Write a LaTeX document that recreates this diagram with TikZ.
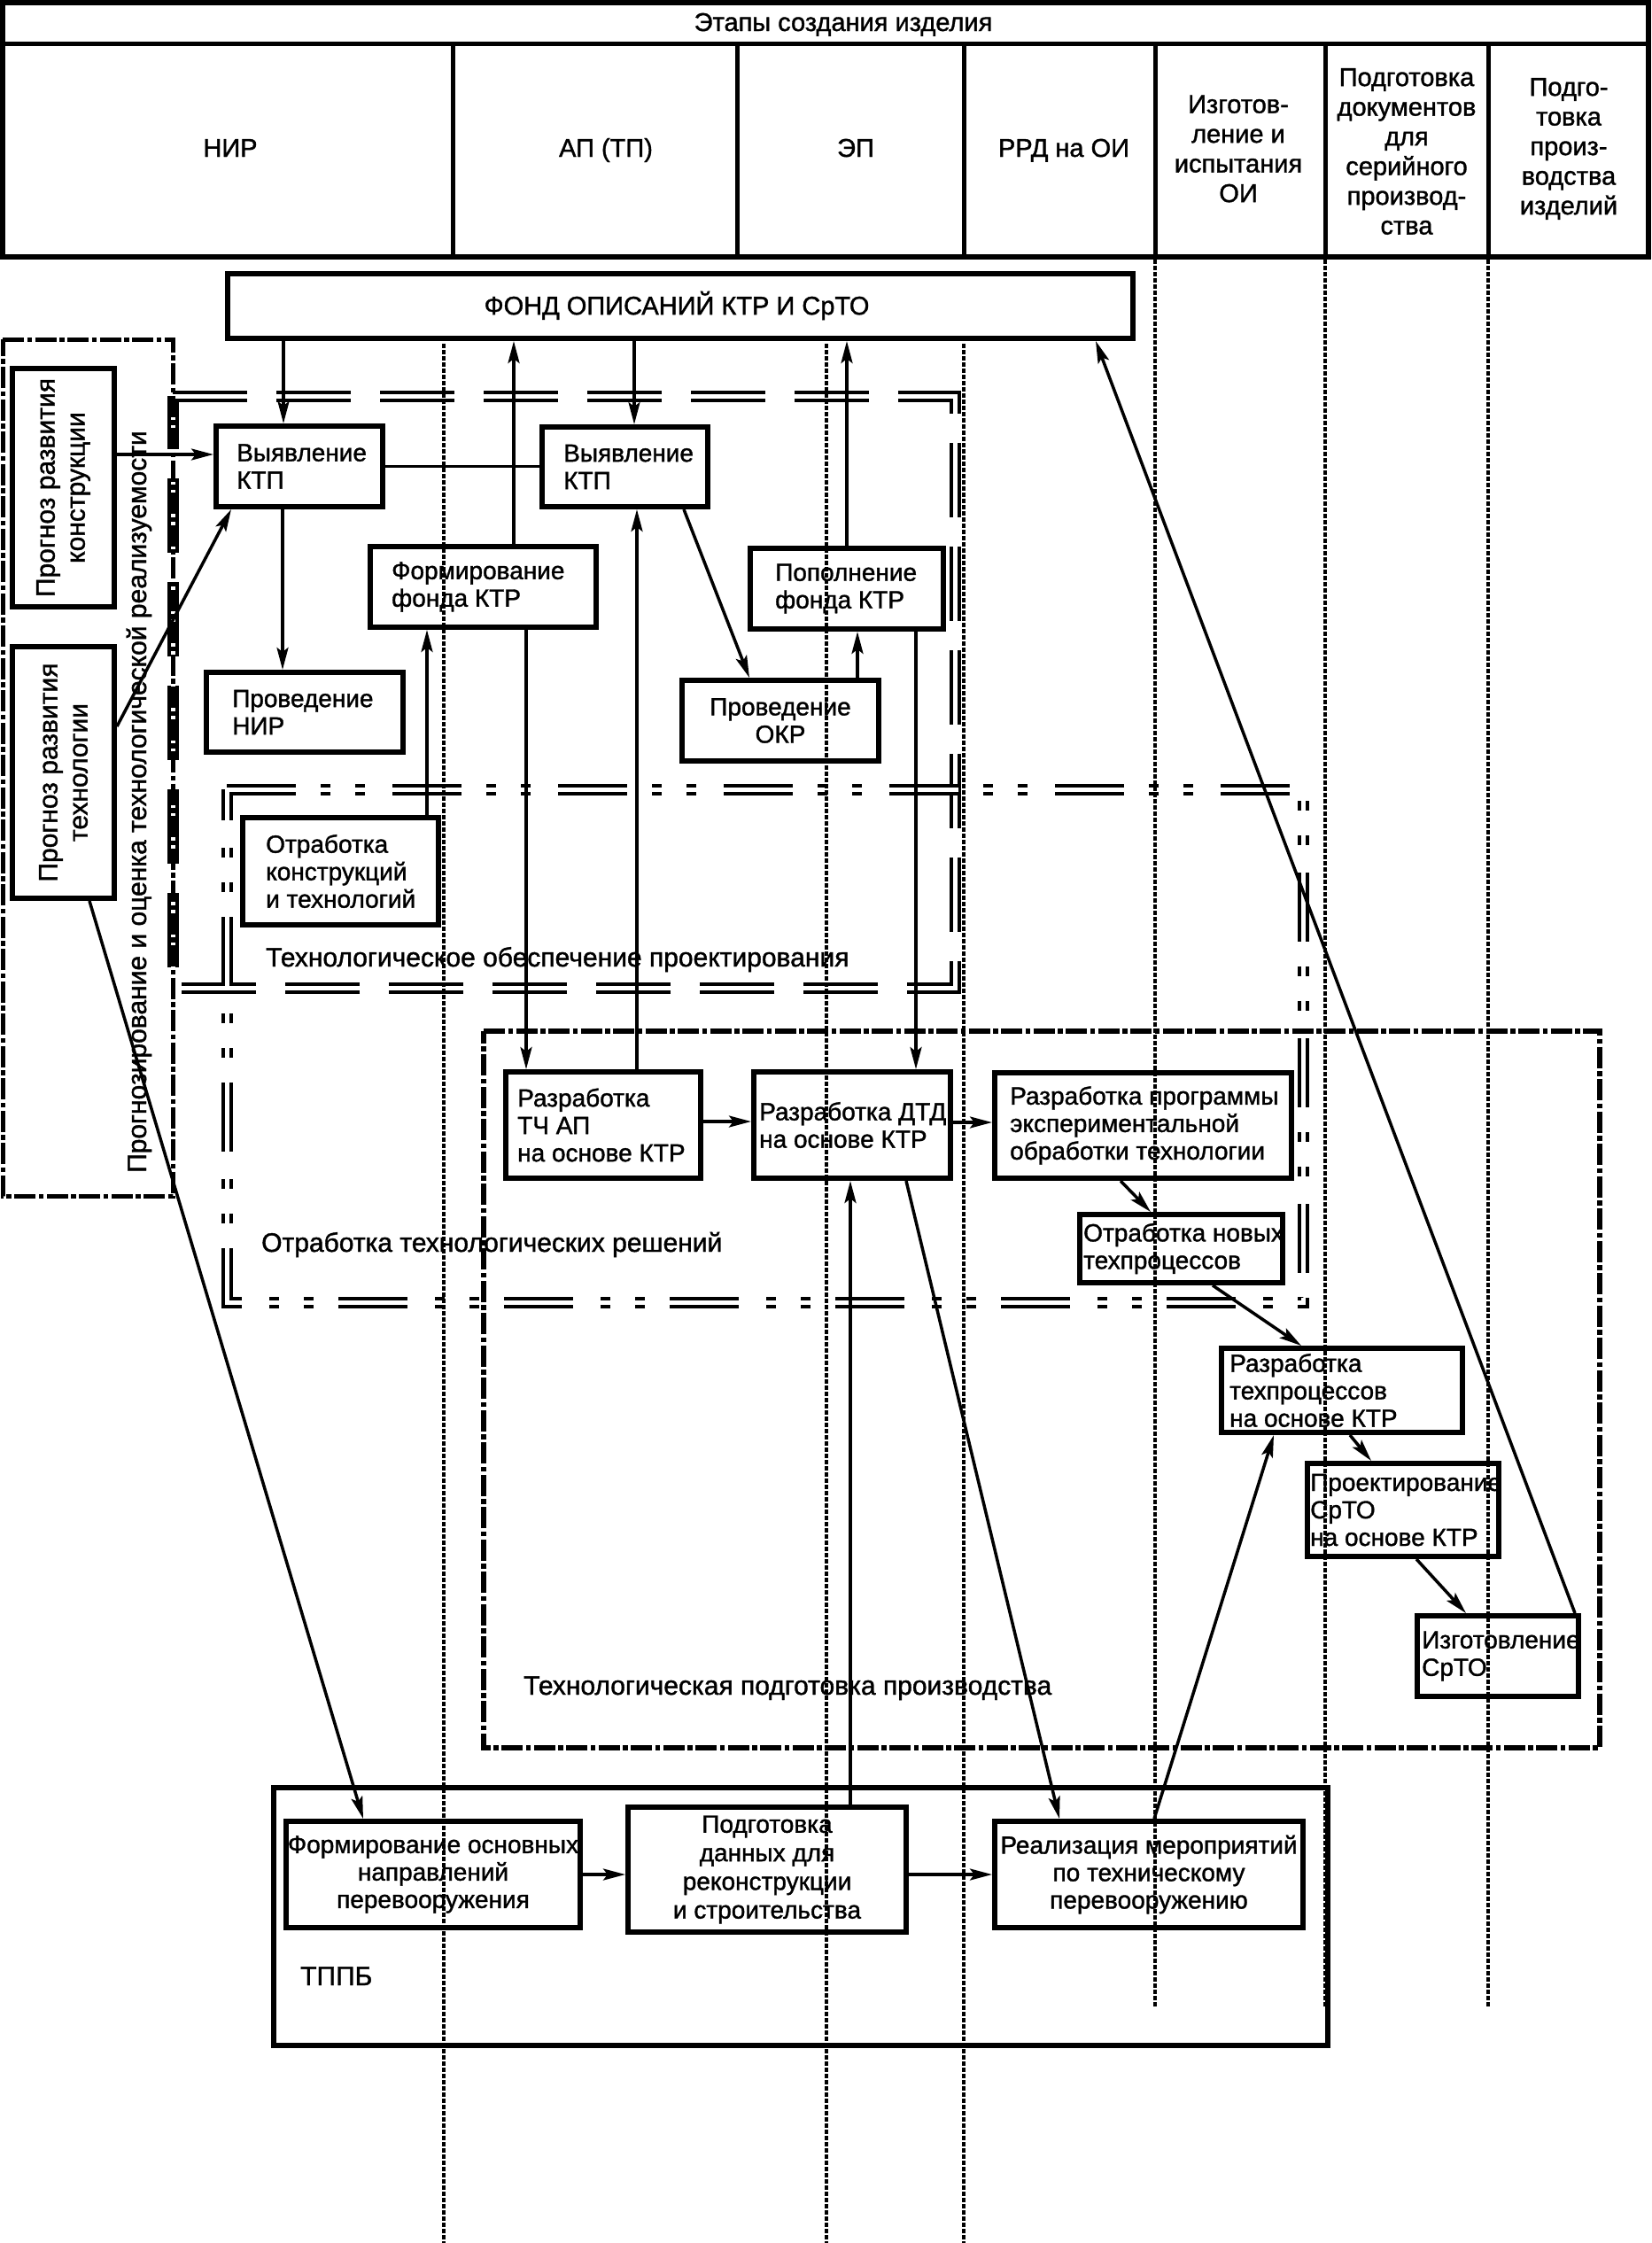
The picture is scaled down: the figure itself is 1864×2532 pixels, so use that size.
\documentclass[tikz,border=0pt]{standalone}
\usepackage{fontspec}
\setmainfont{Liberation Sans}[FakeBold=1.3]
\usetikzlibrary{arrows.meta,calc}
\newcommand\bxfont{\fontsize{28}{31}\selectfont\lineskiplimit=-100pt\relax}
\newcommand\bxfontb{\fontsize{28}{32.3}\selectfont\lineskiplimit=-100pt\relax}
\newcommand\hdfont{\fontsize{29}{33.5}\selectfont\lineskiplimit=-100pt\relax}
\newcommand\lbfont{\fontsize{30}{34}\selectfont\lineskiplimit=-100pt\relax}
\newcommand\mkbox[5]{\node[bx, minimum width={#4-#2-6}, minimum height={#5-#3-6}] (#1) at ({(#2+#4)/2},{(#3+#5)/2}) {};}
\begin{document}
\begin{tikzpicture}[x=1pt,y=-1pt,
  bx/.style={draw, line width=6pt, inner sep=0pt},
  bt/.style={inner sep=0pt, align=left, font=\bxfont},
  btc/.style={inner sep=0pt, align=center, font=\bxfont},
  btr/.style={inner sep=0pt, align=center, font=\lbfont, rotate=90},
  lbl/.style={inner sep=0pt, font=\lbfont},
  hd/.style={inner sep=0pt, align=center, font=\hdfont},
  conn/.style={line width=3.5pt},
  arr/.style={conn, -{Stealth[length=25pt,width=13pt,inset=5pt]}},
  dotv/.style={line width=3.5pt, dash pattern=on 4.5pt off 2.5pt},
  ddash/.style={line width=4pt, double=white, double distance=5pt, dash pattern=on 84pt off 33pt},
  dddot/.style={line width=4pt, double=white, double distance=5pt, dash pattern=on 78pt off 28pt on 11pt off 28pt on 11pt off 31pt},
  dashdot/.style={line width=6pt, dash pattern=on 24pt off 3.5pt on 5.5pt off 3.5pt},
]
\fill[white] (0,0) rectangle (1864,2532);
\useasboundingbox (0,0) rectangle (1864,2532);

% ---------- header ----------
\draw[line width=6pt] (3,3) rectangle (1861,290);
\draw[line width=5pt] (3,49.5) -- (1861,49.5);
\foreach \x in {511,832,1088,1304,1496,1680} \draw[line width=5pt] (\x,49.5) -- (\x,290);
\node[hd, anchor=base] (h0) at (952,35) {Этапы создания изделия};
\node[hd, anchor=base] (h1) at (260,177) {НИР};
\node[hd, anchor=base] (h2) at (684,177) {АП (ТП)};
\node[hd, anchor=base] (h3) at (966,177) {ЭП};
\node[hd, anchor=base] (h4) at (1201,177) {РРД на ОИ};
\node[hd] (h5) at (1398,168) {Изготов-\\ление и\\испытания\\ОИ};
\node[hd] (h6) at (1588,171) {Подготовка\\документов\\для\\серийного\\производ-\\ства};
\node[hd] (h7) at (1771,168) {Подго-\\товка\\произ-\\водства\\изделий};

% ---------- frames ----------
\draw[ddash] (195,447) -- (1078,447) -- (1078,1115) -- (195,1115) -- cycle;
\draw[dddot] (256,891) -- (1471,891) -- (1471,1470) -- (256,1470) -- cycle;
\draw[dashdot] (546,1164) -- (1806,1164) -- (1806,1973) -- (546,1973) -- cycle;
\draw[dashdot, line width=5pt] (3,383) -- (195,383) -- (195,1350) -- (3,1350) -- cycle;

% ---------- dotted stage lines ----------
\foreach \x in {501,933,1088} \draw[dotv] (\x,388) -- (\x,2532);
\foreach \x in {1304,1496,1680} \draw[dotv] (\x,293) -- (\x,2265);

% ---------- boxes ----------
\mkbox{fond}{254}{306}{1282}{385}
\mkbox{b1}{11}{413}{132}{688}
\mkbox{b2}{11}{727}{132}{1017}
\mkbox{b3}{241}{478}{435}{575}
\mkbox{b4}{230}{756}{458}{852}
\mkbox{b5}{415}{614}{676}{711}
\mkbox{b6}{609}{479}{802}{575}
\mkbox{b7}{844}{616}{1068}{713}
\mkbox{b8}{767}{765}{995}{862}
\mkbox{b9}{271}{920}{498}{1047}
\mkbox{b10}{568}{1207}{794}{1333}
\mkbox{b11}{848}{1207}{1076}{1333}
\mkbox{b12}{1120}{1208}{1461}{1333}
\mkbox{b13}{1216}{1368}{1451}{1451}
\mkbox{b14}{1376}{1519}{1654}{1620}
\mkbox{b15}{1473}{1649}{1695}{1760}
\mkbox{b16}{1597}{1821}{1785}{1918}
\mkbox{tppb}{306}{2015}{1502}{2312}
\mkbox{b18}{320}{2053}{658}{2179}
\mkbox{b19}{706}{2037}{1026}{2184}
\mkbox{b20}{1120}{2053}{1474}{2179}

% ---------- box texts ----------
\node[hd, anchor=center] (tf) at (764,345) {ФОНД ОПИСАНИЙ КТР И СрТО};
\node[btr] (t1) at (b1.center) {Прогноз развития\\конструкции};
\node[btr] (t2) at (b2.center) {Прогноз развития\\технологии};
\node[bt, anchor=west] (t3) at ($(b3.west)+(26,0)$) {Выявление\\КТП};
\node[bt, anchor=west] (t4) at ($(b4.west)+(32,0)$) {Проведение\\НИР};
\node[bt, anchor=west] (t5) at ($(b5.west)+(27,0)$) {Формирование\\фонда КТР};
\node[bt, anchor=west] (t6) at ($(b6.west)+(27,0)$) {Выявление\\КТП};
\node[bt, anchor=west] (t7) at ($(b7.west)+(31,0)$) {Пополнение\\фонда КТР};
\node[btc] (t8) at (b8.center) {Проведение\\ОКР};
\node[bt, anchor=west] (t9) at ($(b9.west)+(29,0)$) {Отработка\\конструкций\\и технологий};
\node[bt, anchor=west] (t10) at ($(b10.west)+(16,0)$) {Разработка\\ТЧ АП\\на основе КТР};
\node[bt, anchor=west] (t11) at ($(b11.west)+(9,0)$) {Разработка ДТД\\на основе КТР};
\node[bt, anchor=west] (t12) at ($(b12.west)+(20,0)$) {Разработка программы\\экспериментальной\\обработки технологии};
\node[bt, anchor=west] (t13) at ($(b13.west)+(7,0)$) {Отработка новых\\техпроцессов};
\node[bt, anchor=west] (t14) at ($(b14.west)+(12,0)$) {Разработка\\техпроцессов\\на основе КТР};
\node[bt, anchor=west] (t15) at ($(b15.west)+(6,0)$) {Проектирование\\СрТО\\на основе КТР};
\node[bt, anchor=west] (t16) at ($(b16.west)+(8,0)$) {Изготовление\\СрТО};
\node[btc] (t18) at (b18.center) {Формирование основных\\направлений\\перевооружения};
\node[btc, font=\bxfontb] (t19) at (b19.center) {Подготовка\\данных для\\реконструкции\\и строительства};
\node[btc] (t20) at (b20.center) {Реализация мероприятий\\по техническому\\перевооружению};

% ---------- frame labels ----------
\node[lbl, rotate=90, anchor=base] (lft) at (165,905) {Прогнозирование и оценка технологической реализуемости};
\node[lbl, anchor=base west] (l1) at (300,1091) {Технологическое обеспечение проектирования};
\node[lbl, anchor=base west] (l2) at (295,1413) {Отработка технологических решений};
\node[lbl, anchor=base west] (l3) at (591,1913) {Технологическая подготовка производства};
\node[lbl, anchor=base west] (l4) at (339,2241) {ТППБ};

% ---------- connectors ----------
\draw[arr] ($(fond.south west)+(66,0)$) -- ($(b3.north west)+(79,0)$);
\draw[arr] ($(b1.north east)+(0,100)$) -- ($(b3.north west)+(0,35)$);
\draw[arr] ($(b2.north east)+(0,93)$) -- ($(b3.south west)+(20,0)$);
\draw[arr] ($(b3.south west)+(78,0)$) -- ($(b4.north west)+(89,0)$);
\draw[conn] (b3.east) -- (b3.east -| b6.west);
\draw[arr] ($(b5.north west)+(165,0)$) -- ($(fond.south west)+(326,0)$);
\draw[arr] ($(b9.north west)+(211,0)$) -- ($(b5.south west)+(67,0)$);
\draw[arr] ($(fond.south west)+(462,0)$) -- ($(b6.north west)+(107,0)$);
\draw[arr] ($(b5.south west)+(179,0)$) -- ($(b10.north west)+(26,0)$);
\draw[arr] ($(b10.north west)+(151,0)$) -- ($(b6.south west)+(110,0)$);
\draw[arr] ($(b6.south west)+(163,0)$) -- ($(b8.north west)+(79,0)$);
\draw[arr] ($(b8.north west)+(201,0)$) -- ($(b7.south west)+(124,0)$);
\draw[arr] ($(b7.north west)+(112,0)$) -- ($(fond.south west)+(702,0)$);
\draw[arr] ($(b7.south west)+(190,0)$) -- ($(b11.north west)+(186,0)$);
\draw[arr] ($(b10.north east)+(0,59)$) -- ($(b11.north west)+(0,59)$);
\draw[arr] ($(b11.north east)+(0,60)$) -- ($(b12.north west)+(0,59)$);
\draw[arr] ($(b12.south west)+(145,0)$) -- ($(b13.north west)+(83,0)$);
\draw[arr] ($(b13.south west)+(153,0)$) -- ($(b14.north west)+(93,0)$);
\draw[arr] ($(b14.south west)+(148,0)$) -- ($(b15.north west)+(75,0)$);
\draw[arr] ($(b15.south west)+(126,0)$) -- ($(b16.north west)+(58,0)$);
\draw[arr] ($(b16.north east)+(-7,0)$) -- ($(fond.south east)+(-45,0)$);
\draw[arr] ($(b2.south west)+(90,0)$) -- ($(b18.north west)+(90,0)$);
\draw[arr] (b18.east) -- (b18.east -| b19.west);
\draw[arr] (b18.east -| b19.east) -- (b18.east -| b20.west);
\draw[arr] ($(b19.north west)+(254,0)$) -- ($(b11.south west)+(112,0)$);
\draw[arr] ($(b11.south west)+(175,0)$) -- ($(b20.north west)+(76,0)$);
\draw[arr] ($(b20.north west)+(183,0)$) -- ($(b14.south west)+(62,0)$);
\end{tikzpicture}
\end{document}
